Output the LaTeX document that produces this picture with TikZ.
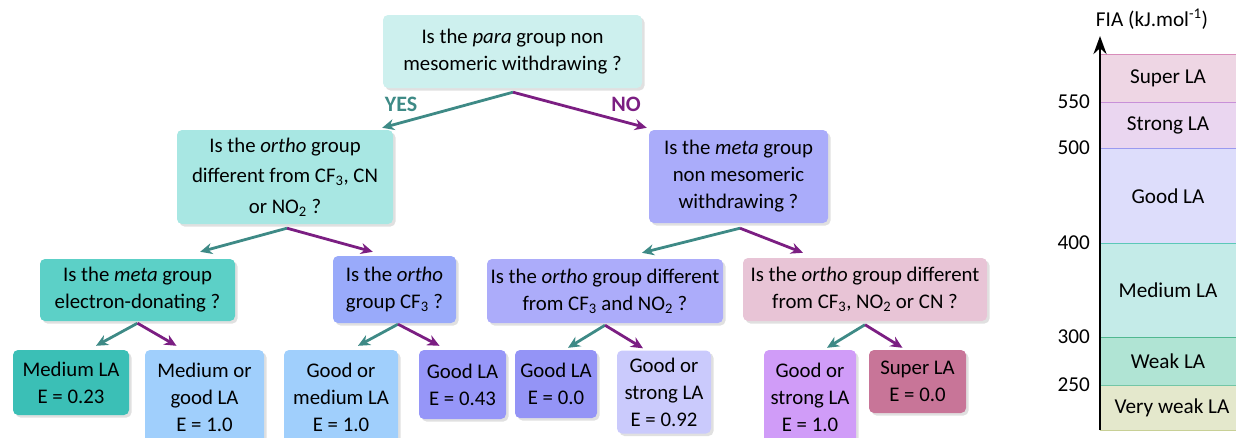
\documentclass[tikz,border=0pt]{standalone}
\usepackage{fontspec}
\setmainfont{Carlito}
\usetikzlibrary{arrows.meta,shadows,calc}
\definecolor{cq0}{RGB}{205,240,238}
\definecolor{cq1}{RGB}{168,231,227}
\definecolor{cq2}{RGB}{170,172,250}
\definecolor{cq3}{RGB}{92,208,199}
\definecolor{cq4}{RGB}{153,170,250}
\definecolor{cq5}{RGB}{172,172,250}
\definecolor{cq6}{RGB}{232,196,214}
\definecolor{cl1}{RGB}{59,191,182}
\definecolor{cl2}{RGB}{160,207,252}
\definecolor{cl4}{RGB}{150,150,248}
\definecolor{cl5}{RGB}{148,148,246}
\definecolor{cl6}{RGB}{202,202,252}
\definecolor{cl7}{RGB}{208,156,248}
\definecolor{cl8}{RGB}{200,117,152}
\definecolor{yescol}{RGB}{62,138,134}
\definecolor{nocol}{RGB}{123,30,130}
\definecolor{bsuper}{RGB}{238,214,228}
\definecolor{bstrong}{RGB}{234,214,240}
\definecolor{bgood}{RGB}{221,221,251}
\definecolor{bmed}{RGB}{196,235,232}
\definecolor{bweak}{RGB}{176,228,212}
\definecolor{bvweak}{RGB}{228,232,204}
\definecolor{lsuper}{RGB}{216,140,186}
\definecolor{lstrong}{RGB}{200,144,216}
\definecolor{lgood}{RGB}{154,154,240}
\definecolor{lmed}{RGB}{92,200,184}
\definecolor{lweak}{RGB}{80,184,144}
\definecolor{lvweak}{RGB}{200,208,150}
\newcommand{\sub}[1]{\textsubscript{#1}}
\tikzset{
  box/.style={rounded corners=5pt, align=center, inner sep=0pt,
    font=\fontsize{20.8}{27}\selectfont,
    drop shadow={shadow xshift=2.5pt, shadow yshift=-2.5pt, opacity=0.12, fill=black}},
  yesarrow/.style={draw=yescol, line width=2.8pt, -{Stealth[length=12pt,width=11pt]}},
  noarrow/.style={draw=nocol, line width=2.8pt, -{Stealth[length=12pt,width=11pt]}},
  band/.style={inner sep=0pt, anchor=north west, minimum width=136pt},
  bandtext/.style={font=\fontsize{21.2}{24}\selectfont},
  tick/.style={font=\fontsize{21.2}{24}\selectfont, anchor=east, inner sep=0pt},
  answer/.style={font=\fontsize{22}{24}\selectfont\bfseries}
}
\begin{document}
\begin{tikzpicture}[x=1pt,y=-1pt]
\useasboundingbox (0,0) rectangle (1236,437);
% question nodes
\node[box, fill=cq0, minimum width=259pt, minimum height=73pt] (q0) at (512.5,51.5) {Is the \emph{para} group non\\mesomeric withdrawing ?};
\node[box, fill=cq1, minimum width=216pt, minimum height=94pt, font=\fontsize{20.8}{30.5}\selectfont] (q1) at (285,177) {Is the \emph{ortho} group\\different from CF\sub{3}, CN\\or NO\sub{2} ?};
\node[box, fill=cq2, minimum width=179pt, minimum height=93pt] (q2) at (738.5,176.5) {Is the \emph{meta} group\\non mesomeric\\withdrawing ?};
\node[box, fill=cq3, minimum width=195pt, minimum height=62pt] (q3) at (137.5,290) {Is the \emph{meta} group\\electron-donating ?};
\node[box, fill=cq4, minimum width=123pt, minimum height=67pt] (q4) at (394.5,289.5) {Is the \emph{ortho}\\group CF\sub{3} ?};
\node[box, fill=cq5, minimum width=236pt, minimum height=64pt] (q5) at (605,291) {Is the \emph{ortho} group different\\from CF\sub{3} and NO\sub{2} ?};
\node[box, fill=cq6, minimum width=244pt, minimum height=63pt] (q6) at (865,289.5) {Is the \emph{ortho} group different\\from CF\sub{3}, NO\sub{2} or CN ?};
% leaves
\node[box, fill=cl1, minimum width=116pt, minimum height=65pt] (l1) at (71,382.5) {Medium LA\\E = 0.23};
\node[box, fill=cl2, minimum width=119pt, minimum height=95pt] (l2) at (204.5,397.5) {Medium or\\good LA\\E = 1.0};
\node[box, fill=cl2, minimum width=114pt, minimum height=95pt] (l3) at (341,397.5) {Good or\\medium LA\\E = 1.0};
\node[box, fill=cl4, minimum width=87pt, minimum height=69pt] (l4) at (462.5,384.5) {Good LA\\E = 0.43};
\node[box, fill=cl5, minimum width=82pt, minimum height=68pt] (l5) at (556,384) {Good LA\\E = 0.0};
\node[box, fill=cl6, minimum width=94pt, minimum height=83pt] (l6) at (664,392) {Good or\\strong LA\\E = 0.92};
\node[box, fill=cl7, minimum width=92pt, minimum height=95pt] (l7) at (810,397.5) {Good or\\strong LA\\E = 1.0};
\node[box, fill=cl8, minimum width=97pt, minimum height=63pt] (l8) at (917.5,381.5) {Super LA\\E = 0.0};
% arrows
\draw[yesarrow] ($(q0.south)+(0.5,4)$) -- ($(q1.north east)+(-11,-2)$);
\draw[noarrow]  ($(q0.south)+(0.5,4)$) -- ($(q2.north west)+(-2,-2)$);
\node[answer, text=yescol] (yes) at (401,104) {YES};
\node[answer, text=nocol] (no) at (626,104) {NO};
\draw[yesarrow] ($(q1.south)+(2,4)$) -- ($(q3.north east)+(-35,-7)$);
\draw[noarrow]  ($(q1.south)+(2,4)$) -- ($(q4.north west)+(40,-4)$);
\draw[yesarrow] ($(q2.south)+(1.5,5)$) -- ($(q5.north)+(37,-6)$);
\draw[noarrow]  ($(q2.south)+(1.5,5)$) -- ($(q6.north)+(-62,-5)$);
\draw[yesarrow] ($(q3.south)+(0,2)$) -- ($(l1.north)+(25,-4)$);
\draw[noarrow]  ($(q3.south)+(0,2)$) -- ($(l2.north)+(-28,-4)$);
\draw[yesarrow] ($(q4.south)+(3.5,1)$) -- ($(l3.north)+(17,-4)$);
\draw[noarrow]  ($(q4.south)+(3.5,1)$) -- ($(l4.north)+(-23,-4)$);
\draw[yesarrow] ($(q5.south)+(0,2)$) -- ($(l5.north)+(12,-2)$);
\draw[noarrow]  ($(q5.south)+(0,2)$) -- ($(l6.north)+(-21,-2)$);
\draw[yesarrow] ($(q6.south)+(0,3.5)$) -- ($(l7.north)+(17,-2)$);
\draw[noarrow]  ($(q6.south)+(0,3.5)$) -- ($(l8.north)+(-15,-2)$);
% FIA scale
\node[band, fill=bsuper,  minimum height=48pt] (bs)  at (1100,54)  {};
\node[band, fill=bstrong, minimum height=46pt] (bst) at (1100,102) {};
\node[band, fill=bgood,   minimum height=95pt] (bg)  at (1100,148) {};
\node[band, fill=bmed,    minimum height=94pt] (bm)  at (1100,243) {};
\node[band, fill=bweak,   minimum height=48pt] (bw)  at (1100,337) {};
\node[band, fill=bvweak,  minimum height=45pt] (bv)  at (1100,385) {};
\draw[lsuper, line width=1pt] (bs.north west) -- (bs.north east);
\draw[lstrong, line width=1pt] (bst.north west) -- (bst.north east);
\draw[lgood, line width=1pt] (bg.north west) -- (bg.north east);
\draw[lmed, line width=1pt] (bm.north west) -- (bm.north east);
\draw[lweak, line width=1pt] (bw.north west) -- (bw.north east);
\draw[lweak!80!white, line width=1pt] (bv.north west) -- (bv.north east);
\draw[lvweak, line width=1pt] (bv.south west) -- (bv.south east);
\node[bandtext] (ts) at (1168,78) {Super LA};
\node[bandtext] (tst) at (1168,125) {Strong LA};
\node[bandtext] (tg) at (1168,196) {Good LA};
\node[bandtext] (tm) at (1168,290) {Medium LA};
\node[bandtext] (tw) at (1168,361) {Weak LA};
\node[bandtext] (tv) at (1172,408) {Very weak LA};
\node[tick] (t550) at (1090,102) {550};
\node[tick] (t500) at (1090,148) {500};
\node[tick] (t400) at (1090,243) {400};
\node[tick] (t300) at (1090,337) {300};
\node[tick] (t250) at (1090,385) {250};
\coordinate (axb) at (1100,430);
\coordinate (axt) at (1100,36);
\draw[line width=2.8pt, -{Stealth[length=18pt,width=13pt]}] (axb) -- (axt);
\node[font=\fontsize{21.2}{24}\selectfont] (fia) at (1152,19) {FIA (kJ.mol\textsuperscript{-1})};
\end{tikzpicture}
\end{document}
